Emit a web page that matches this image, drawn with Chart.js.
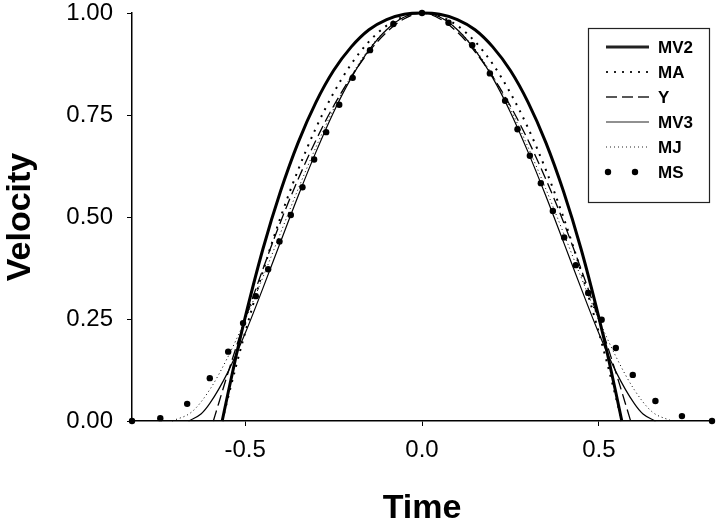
<!DOCTYPE html>
<html><head><meta charset="utf-8">
<script src="https://cdn.jsdelivr.net/npm/chart.js@4"></script>
<style>html,body{margin:0;padding:0;background:#fff}#wrap{width:720px;height:528px}</style>
</head><body><div id="wrap"><canvas id="c" width="720" height="528"></canvas></div>
<script>
// ---- tick labels ----
const xTicks = [-0.5, 0, 0.5];
const yTicks = [0, 0.25, 0.5, 0.75, 1];
const seriesNames = ['MV2', 'MA', 'Y', 'MV3', 'MJ', 'MS'];

// ---- series (time, velocity) ----
const mv2Time = [-0.565,-0.55,-0.525,-0.5,-0.45,-0.4,-0.35,-0.3,-0.25,-0.2,-0.15,-0.1,-0.05,0,0.05,0.1,0.15,0.2,0.25,0.3,0.35,0.4,0.45,0.5,0.525,0.55,0.565];
const mv2Vel  = [0,0.062,0.162,0.254,0.421,0.563,0.683,0.781,0.859,0.917,0.959,0.984,0.997,1,0.997,0.984,0.959,0.917,0.859,0.781,0.683,0.563,0.421,0.254,0.162,0.062,0];

const maTime = [-0.565,-0.55,-0.525,-0.5,-0.45,-0.4,-0.35,-0.3,-0.25,-0.2,-0.15,-0.1,-0.05,0,0.05,0.1,0.15,0.2,0.25,0.3,0.35,0.4,0.45,0.5,0.525,0.55,0.565];
const maVel  = [0,0.052,0.137,0.217,0.366,0.499,0.616,0.718,0.804,0.875,0.930,0.969,0.992,1,0.992,0.969,0.930,0.875,0.804,0.718,0.616,0.499,0.366,0.217,0.137,0.052,0];

const yTime = [-0.59,-0.575,-0.55,-0.5,-0.45,-0.4,-0.35,-0.3,-0.25,-0.2,-0.15,-0.1,-0.05,0,0.05,0.1,0.15,0.2,0.25,0.3,0.35,0.4,0.45,0.5,0.55,0.575,0.59];
const yVel  = [0,0.043,0.114,0.248,0.372,0.488,0.593,0.688,0.772,0.844,0.905,0.953,0.986,1,0.986,0.953,0.905,0.844,0.772,0.688,0.593,0.488,0.372,0.248,0.114,0.043,0];

const mv3Time = [-0.66,-0.625,-0.6,-0.55,-0.5,-0.45,-0.4,-0.35,-0.3,-0.25,-0.2,-0.15,-0.1,-0.05,0,0.05,0.1,0.15,0.2,0.25,0.3,0.35,0.4,0.45,0.5,0.55,0.6,0.625,0.66];
const mv3Vel  = [0,0.017,0.043,0.118,0.215,0.325,0.439,0.552,0.659,0.757,0.841,0.909,0.959,0.990,1,0.990,0.959,0.909,0.841,0.757,0.659,0.552,0.439,0.325,0.215,0.118,0.043,0.017,0];

const mjTime = [-0.706,-0.65,-0.6,-0.55,-0.5,-0.45,-0.4,-0.35,-0.3,-0.25,-0.2,-0.15,-0.1,-0.05,0,0.05,0.1,0.15,0.2,0.25,0.3,0.35,0.4,0.45,0.5,0.55,0.6,0.65,0.706];
const mjVel  = [0,0.023,0.077,0.155,0.248,0.352,0.461,0.569,0.671,0.765,0.846,0.912,0.960,0.990,1,0.990,0.960,0.912,0.846,0.765,0.671,0.569,0.461,0.352,0.248,0.155,0.077,0.023,0];

const msTime = [-0.82,-0.74,-0.664,-0.6,-0.548,-0.506,-0.47,-0.435,-0.403,-0.371,-0.338,-0.305,-0.271,-0.234,-0.196,-0.147,-0.081,0,0.075,0.142,0.192,0.235,0.27,0.305,0.336,0.37,0.402,0.435,0.47,0.508,0.548,0.596,0.66,0.735,0.82];
const msVel  = [0,0.007,0.042,0.105,0.17,0.24,0.306,0.372,0.44,0.505,0.573,0.641,0.708,0.775,0.841,0.909,0.973,1,0.976,0.921,0.852,0.785,0.715,0.65,0.583,0.515,0.45,0.382,0.314,0.248,0.179,0.113,0.049,0.012,0];

function pts(t, v) { return t.map((x, i) => ({ x: x, y: v[i] })); }

const FONT = '"Liberation Sans", Arial, Helvetica, sans-serif';
Chart.defaults.font.family = FONT;
Chart.defaults.color = '#000';

const lineBase = { pointRadius: 0, fill: false, cubicInterpolationMode: 'monotone', borderColor: '#000', clip: false };

const datasets = [
  Object.assign({ label: seriesNames[0], data: pts(mv2Time, mv2Vel), borderWidth: 3 }, lineBase),
  Object.assign({ label: seriesNames[1], data: pts(maTime, maVel), borderWidth: 2, borderDash: [2, 6] }, lineBase),
  Object.assign({ label: seriesNames[2], data: pts(yTime, yVel), borderWidth: 1.3, borderDash: [11, 5] }, lineBase),
  Object.assign({ label: seriesNames[3], data: pts(mv3Time, mv3Vel), borderWidth: 1.2 }, lineBase),
  Object.assign({ label: seriesNames[4], data: pts(mjTime, mjVel), borderWidth: 1, borderDash: [1, 3] }, lineBase),
  { label: seriesNames[5], data: pts(msTime, msVel), showLine: false, pointRadius: 3.2, pointBackgroundColor: '#000', pointBorderWidth: 0, borderColor: '#000', clip: false }
];

const legendBox = {
  id: 'legendBox',
  afterDraw(chart) {
    const ctx = chart.ctx;
    ctx.save();
    const bx = 588, by = 28, bw = 121, bh = 174;
    ctx.strokeStyle = '#222';
    ctx.lineWidth = 1.2;
    ctx.strokeRect(bx + 0.5, by + 0.5, bw, bh);
    ctx.font = 'bold 17px ' + FONT;
    ctx.fillStyle = '#000';
    ctx.textBaseline = 'middle';
    chart.data.datasets.forEach((ds, i) => {
      const y = 47 + i * 25;
      if (ds.showLine === false) {
        [608, 635].forEach(x => { ctx.beginPath(); ctx.arc(x, y, 3.2, 0, Math.PI * 2); ctx.fill(); });
      } else {
        ctx.beginPath();
        ctx.lineWidth = ds.borderWidth;
        ctx.setLineDash(ds.borderDash || []);
        ctx.moveTo(606, y); ctx.lineTo(649, y);
        ctx.stroke();
        ctx.setLineDash([]);
      }
      ctx.fillText(ds.label, 658, y + 1);
    });
    ctx.restore();
  }
};

new Chart(document.getElementById('c'), {
  type: 'line',
  data: { datasets: datasets },
  options: {
    responsive: false,
    animation: false,
    devicePixelRatio: 1,
    layout: { padding: { top: 13, right: 8, left: 0, bottom: 0 } },
    plugins: { legend: { display: false }, tooltip: { enabled: false } },
    scales: {
      x: {
        type: 'linear', min: -0.82, max: 0.82,
        afterFit(s) { s.height = 107; s.paddingLeft = 0; s.paddingRight = 0; },
        afterBuildTicks(s) { s.ticks = xTicks.map(v => ({ value: v })); },
        grid: { drawOnChartArea: false, tickLength: 5, color: '#000', lineWidth: 1 },
        border: { display: true, color: '#000', width: 1.5 },
        ticks: { font: { size: 24 }, padding: 10, maxRotation: 0, callback: v => v.toFixed(1) },
        title: { display: true, text: 'Time', font: { size: 34, weight: 'bold', lineHeight: 1 }, padding: { top: 0, bottom: 2 } }
      },
      y: {
        type: 'linear', min: 0, max: 1,
        afterFit(s) { s.width = 132; s.paddingTop = 0; s.paddingBottom = 0; },
        afterBuildTicks(s) { s.ticks = yTicks.map(v => ({ value: v })); },
        grid: { drawOnChartArea: false, tickLength: 5, color: '#000', lineWidth: 1 },
        border: { display: true, color: '#000', width: 1.5 },
        ticks: { font: { size: 24 }, padding: 14, callback: v => v.toFixed(2) },
        title: { display: true, text: 'Velocity', font: { size: 34, weight: 'bold', lineHeight: 1 }, padding: { top: 4, bottom: 0 } }
      }
    }
  },
  plugins: [legendBox]
});
</script>
</body></html>
